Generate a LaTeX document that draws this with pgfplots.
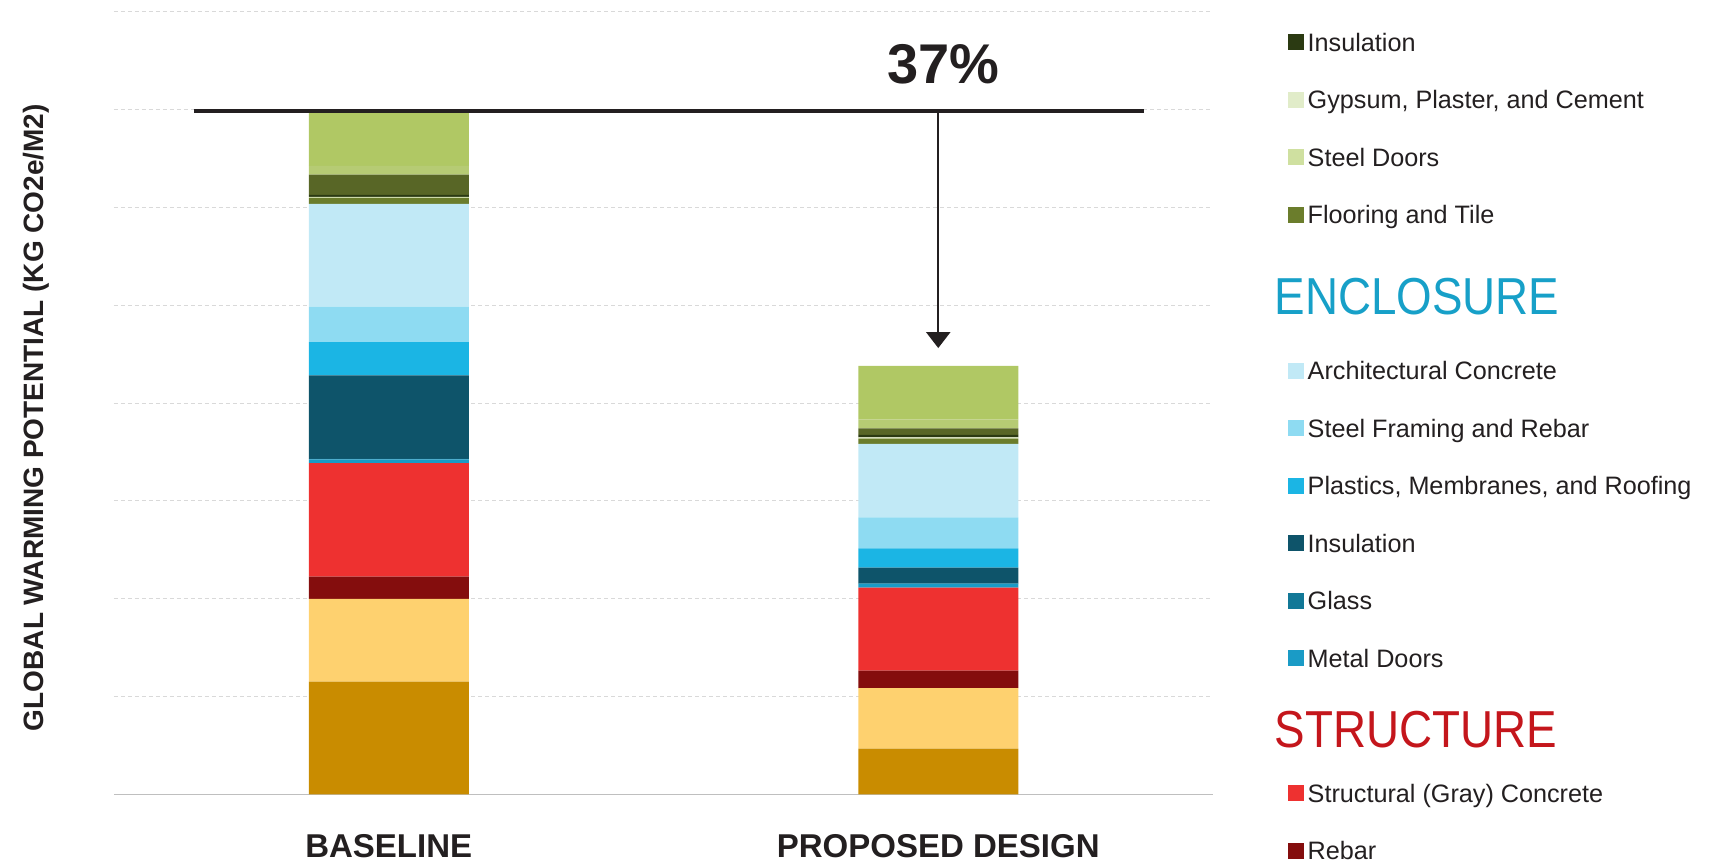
\documentclass[border=0pt]{standalone}
\usepackage{pgfplots}
\pgfplotsset{compat=1.18}
\usepackage{fontspec}
\setmainfont{Liberation Sans}
\newfontfamily\headfont[FakeStretch=0.88]{Liberation Sans}
\usetikzlibrary{arrows.meta}

\definecolor{cgold}{HTML}{C98C00}
\definecolor{clyellow}{HTML}{FED16F}
\definecolor{crebar}{HTML}{840D0D}
\definecolor{cscon}{HTML}{EE3130}
\definecolor{cmetal}{HTML}{1A9BC6}
\definecolor{cglass}{HTML}{127897}
\definecolor{ceinsul}{HTML}{0E546A}
\definecolor{cplast}{HTML}{1BB5E4}
\definecolor{csteelfr}{HTML}{8EDBF2}
\definecolor{carch}{HTML}{C1E9F6}
\definecolor{cfloor}{HTML}{6B7D2C}
\definecolor{csteeldoor}{HTML}{CFE0A0}
\definecolor{cgypsum}{HTML}{E1ECC9}
\definecolor{ciinsul}{HTML}{2B3A12}
\definecolor{colive}{HTML}{586626}
\definecolor{clgreenb}{HTML}{B6CB74}
\definecolor{clgreena}{HTML}{B0C864}
\definecolor{cenc}{HTML}{17A0C8}
\definecolor{cstruct}{HTML}{C4161C}
\definecolor{labtext}{HTML}{231F20}
\definecolor{axisgray}{HTML}{BFBFBF}
\definecolor{gridgray}{HTML}{D9D9D9}

\pgfplotsset{sq/.style={legend image code/.code={\fill[##1, draw=none] (0pt,-4pt) rectangle (8pt,4pt);}}}

\begin{document}
\begin{tikzpicture}
\begin{axis}[
  scale only axis, width=549.5pt, height=391.15pt,
  xmin=-0.5, xmax=1.5, ymin=0, ymax=800, enlargelimits=false,
  ybar stacked, bar width=80pt,
  axis x line*=bottom, axis y line*=left,
  x axis line style={draw=axisgray, line width=0.8pt},
  y axis line style={draw=none},
  xtick={0,1}, xticklabels={BASELINE,PROPOSED DESIGN},
  xtick style={draw=none}, ytick style={draw=none},
  ytick={100,200,...,800}, yticklabels={},
  ymajorgrids, grid style={gridgray, dash pattern=on 2pt off 1.5pt, line width=0.5pt},
  xticklabel style={anchor=base, font=\bfseries\fontsize{16.5}{16.5}\selectfont, text=labtext},
  xticklabel shift=31.75pt,
  ylabel={GLOBAL WARMING POTENTIAL (KG CO2e/M2)},
  ylabel style={at={(axis description cs:-0.071,0.4815)}, anchor=center, font=\bfseries\fontsize{14}{14}\selectfont, text=labtext},
  legend cell align=left,
  legend style={at={(axis description cs:1.0676,0.977)}, anchor=north west, draw=none, fill=none, inner sep=0pt, row sep=16.75pt, column sep=2pt, font=\fontsize{12.6}{14}\selectfont, text=labtext, nodes={inner sep=0pt, text height=10.5pt, text depth=1.5pt}},
]
% structure
\addplot[forget plot, fill=cgold, draw=none] coordinates {(0,115.2) (1,46.6)};
\addplot[forget plot, fill=clyellow, draw=none] coordinates {(0,84.6) (1,62.1)};
\addplot[forget plot, fill=crebar, draw=none] coordinates {(0,22.8) (1,17.7)};
\addplot[forget plot, fill=cscon, draw=none] coordinates {(0,116.0) (1,84.9)};
% enclosure
\addplot[forget plot, fill=cmetal, draw=none] coordinates {(0,4.0) (1,4.0)};
\addplot[forget plot, fill=cglass, draw=none] coordinates {(0,0.5) (1,0.5)};
\addplot[forget plot, fill=ceinsul, draw=none] coordinates {(0,85.2) (1,16.0)};
\addplot[forget plot, fill=cplast, draw=none] coordinates {(0,34.2) (1,19.8)};
\addplot[forget plot, fill=csteelfr, draw=none] coordinates {(0,36.1) (1,31.7)};
\addplot[forget plot, fill=carch, draw=none] coordinates {(0,105.1) (1,75.0)};
% interiors
\addplot[forget plot, fill=cfloor, draw=none] coordinates {(0,6.1) (1,5.5)};
\addplot[forget plot, fill=csteeldoor, draw=none] coordinates {(0,0.5) (1,0.6)};
\addplot[forget plot, fill=cgypsum, draw=none] coordinates {(0,0.6) (1,0.7)};
\addplot[forget plot, fill=ciinsul, draw=none] coordinates {(0,2.0) (1,2.4)};
\addplot[forget plot, fill=colive, draw=none] coordinates {(0,20.8) (1,6.8)};
\addplot[forget plot, fill=clgreenb, draw=none] coordinates {(0,8.9) (1,9.2)};
\addplot[forget plot, fill=clgreena, draw=none] coordinates {(0,55.0) (1,54.5)};

\addlegendimage{sq, fill=ciinsul}\addlegendentry{Insulation}
\addlegendimage{sq, fill=cgypsum}\addlegendentry{Gypsum, Plaster, and Cement}
\addlegendimage{sq, fill=csteeldoor}\addlegendentry{Steel Doors}
\addlegendimage{sq, fill=cfloor}\addlegendentry{Flooring and Tile}
\addlegendimage{empty legend}\addlegendentry[text height=27pt, text depth=5.5pt]{\hspace*{-16.5pt}\headfont\fontsize{26}{26}\selectfont\color{cenc}ENCLOSURE}
\addlegendimage{sq, fill=carch}\addlegendentry{Architectural Concrete}
\addlegendimage{sq, fill=csteelfr}\addlegendentry{Steel Framing and Rebar}
\addlegendimage{sq, fill=cplast}\addlegendentry{Plastics, Membranes, and Roofing}
\addlegendimage{sq, fill=ceinsul}\addlegendentry{Insulation}
\addlegendimage{sq, fill=cglass}\addlegendentry{Glass}
\addlegendimage{sq, fill=cmetal}\addlegendentry{Metal Doors}
\addlegendimage{empty legend}\addlegendentry[text height=21.8pt, text depth=0.2pt]{\hspace*{-16.5pt}\headfont\fontsize{26}{26}\selectfont\color{cstruct}STRUCTURE}
\addlegendimage{sq, fill=cscon}\addlegendentry{Structural (Gray) Concrete}
\addlegendimage{sq, fill=crebar}\addlegendentry{Rebar}
\end{axis}

\begin{axis}[
  scale only axis, width=549.5pt, height=391.15pt,
  xmin=-0.5, xmax=1.5, ymin=0, ymax=800, enlargelimits=false,
  hide axis, clip=false,
]
\addplot[draw=labtext, line width=2.25pt] coordinates {(-0.355,699) (1.3735,699)};
\addplot[draw=labtext, line width=1.2pt, -{Triangle[width=12pt,length=8pt]}] coordinates {(1,699) (1,456.3)};
\node[font=\bfseries\fontsize{28}{28}\selectfont, text=labtext] at (axis cs:1.0087,747) {37\%};
\coordinate (BL) at (rel axis cs:0,0);
\coordinate (TR) at (rel axis cs:1,1);
\end{axis}
\pgfresetboundingbox
\useasboundingbox ([xshift=-57pt,yshift=-33.85pt]BL) rectangle ([xshift=260.5pt,yshift=6pt]TR);
\end{tikzpicture}
\end{document}
